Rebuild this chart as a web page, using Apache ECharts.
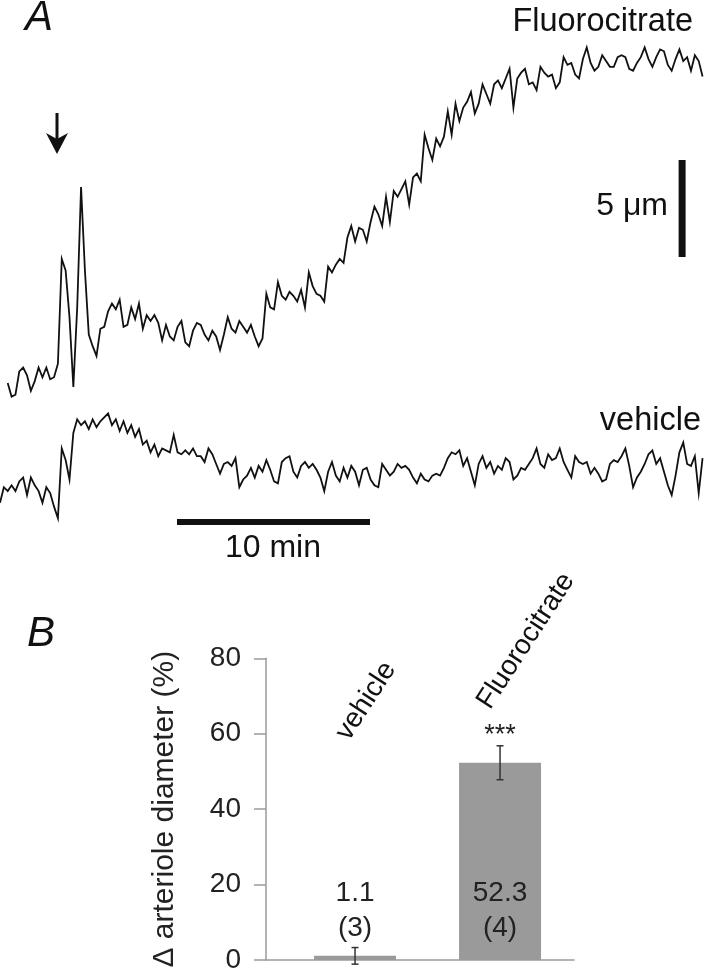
<!DOCTYPE html>
<html><head><meta charset="utf-8">
<script src="https://cdn.jsdelivr.net/npm/echarts/dist/echarts.min.js"></script>
<style>html,body{margin:0;padding:0;background:#fff}#c{width:705px;height:974px}</style>
</head><body><div id="c"></div>
<script>
// ---- Panel A: diameter traces (µm change), sampled every 0.2 min ----
const traceStepMin = 0.2;
const fluoroStartMin = 0.4;
const fluoroUm = [0.1,-0.6,-0.5,0.7,0.9,0.5,-0.3,0.2,0.9,0.4,
 0.9,0.3,0.4,1.1,6.5,5.9,3.5,-0.1,4.0,10.2,
 5.9,2.6,2.0,1.5,2.9,3.0,3.8,4.2,3.9,4.4,
 3.0,3.1,4.0,3.4,4.2,2.9,3.6,3.3,3.6,3.2,
 2.3,3.1,2.5,2.3,3.0,3.3,2.2,2.0,2.8,3.2,
 3.1,2.6,2.3,2.8,2.5,1.8,2.6,3.5,2.9,2.7,
 3.3,3.0,2.7,3.1,2.5,2.0,2.4,4.7,4.0,3.9,
 5.3,4.6,4.4,4.8,4.6,4.3,4.9,4.0,5.8,5.1,
 4.7,4.6,4.3,6.1,5.8,6.2,6.5,6.3,7.6,8.2,
 7.4,8.1,8.0,7.4,8.4,9.2,8.8,8.2,9.7,8.4,
 10.0,9.7,10.1,10.5,9.3,10.7,10.9,10.5,12.9,12.2,
 11.6,12.7,12.3,12.8,14.1,12.9,14.5,13.6,14.3,14.6,
 15.1,14.0,14.5,15.5,15.0,14.5,15.5,15.7,15.3,15.8,
 16.3,14.3,15.8,16.1,16.3,15.5,15.6,15.2,16.4,16.1,
 15.9,16.0,15.3,15.6,16.9,16.5,16.6,16.0,15.8,16.8,
 17.4,16.6,16.2,16.4,17.0,16.7,16.4,16.4,16.9,17.0,
 16.9,16.3,16.2,16.6,16.9,17.4,16.8,16.4,16.9,17.3,
 17.2,16.5,16.2,16.8,17.3,16.7,16.9,16.2,17.0,16.7,
 15.9];
const vehicleStartMin = 0;
const vehicleUm = [-0.4,0.4,0.2,0.5,0.2,0.7,0.9,0.0,0.9,0.5,
 0.2,-0.4,0.4,0.1,-0.6,-1.2,2.4,1.8,0.8,3.2,
 3.9,3.6,3.8,3.4,3.9,3.5,3.8,4.0,4.2,3.6,
 3.9,3.3,3.8,3.2,3.6,3.0,3.4,2.6,2.8,2.2,
 2.6,2.0,2.4,2.3,2.2,3.1,2.2,2.1,2.3,2.1,
 2.4,2.0,2.0,1.7,2.4,2.1,1.6,1.1,1.6,1.7,
 1.5,1.9,0.4,0.8,1.0,1.4,0.9,1.5,1.2,1.8,
 1.3,0.7,0.6,1.7,1.9,2.0,1.2,0.9,1.5,1.7,
 1.4,1.6,1.3,0.9,0.2,1.2,1.7,1.0,0.7,1.4,
 0.9,1.5,1.2,0.5,1.3,1.4,0.8,0.5,0.4,1.6,
 1.3,1.0,1.2,1.6,1.4,1.5,1.3,0.9,0.6,1.1,
 0.8,0.7,1.0,1.1,1.0,1.4,1.9,2.2,2.1,2.3,
 1.5,1.9,1.2,0.5,1.6,2.0,1.4,1.7,1.1,1.5,
 1.3,1.9,1.7,0.8,1.0,1.4,1.3,1.6,1.9,2.4,
 1.6,1.4,2.1,1.8,1.9,2.4,1.7,1.3,0.9,2.0,
 1.7,1.6,1.7,1.1,1.4,1.1,0.7,0.8,1.6,1.8,
 1.7,2.0,2.4,1.5,0.4,0.9,1.2,1.6,2.1,2.3,
 1.6,1.9,1.2,0.5,0.0,1.0,2.2,2.7,1.6,1.5,
 2.0,0.1,1.9];
const traceNames = ['Fluorocitrate', 'vehicle'];
const scaleBarUm = 5;
const scaleBarMin = 10;

// ---- Panel B: bar chart ----
const groups = ['vehicle', 'Fluorocitrate'];
const meanPct = [1.1, 52.3];
const semPct = [2.2, 4.5];
const nArterioles = [3, 4];
const sigMarks = ['', '***'];
const yTickValues = [0, 20, 40, 60, 80];
const yAxisTitle = 'Δ arteriole diameter (%)';

const FONT = "'Liberation Sans', Arial, Helvetica, sans-serif";
const INK = '#111';

const fluoroData = fluoroUm.map((v, i) => [fluoroStartMin + i * traceStepMin, v]);
const vehicleData = vehicleUm.map((v, i) => [vehicleStartMin + i * traceStepMin, v]);
const umBar = { t: 35.34, from: 6.6 };
const minBar = { t: 9.17, at: -1.39 };
const barData = meanPct.map((v, i) => [i + 1, v]);
const errData = meanPct.map((v, i) => [i + 1, v, semPct[i], i]);

const rot = 57 * Math.PI / 180;

function txt(text, x, y, size, align, vAlign, extra) {
  return Object.assign({
    type: 'text', x: x, y: y,
    style: { text: text, font: size + 'px ' + FONT, fill: INK,
      align: align, textAlign: align, verticalAlign: vAlign, textVerticalAlign: vAlign }
  }, extra || {});
}

const chart = echarts.init(document.getElementById('c'), null, { renderer: 'canvas' });
chart.setOption({
  animation: false,
  backgroundColor: '#fff',
  grid: [
    { left: 0, top: 35.8, width: 704.5, height: 368.6 },
    { left: 0, top: 398, width: 704.5, height: 135.8 },
    { left: 266, top: 658.3, width: 308, height: 306 }
  ],
  xAxis: [
    { gridIndex: 0, type: 'value', min: 0, max: 36.5, show: false },
    { gridIndex: 1, type: 'value', min: 0, max: 36.5, show: false },
    { gridIndex: 2, type: 'value', min: 0.386, max: 2.51,
      axisLine: { show: true, onZero: false, lineStyle: { color: '#9a9a9a', width: 1.5 } },
      axisTick: { show: false }, axisLabel: { show: false }, splitLine: { show: false } }
  ],
  yAxis: [
    { gridIndex: 0, type: 'value', min: -1, max: 18, show: false },
    { gridIndex: 1, type: 'value', min: -2, max: 5, show: false },
    { gridIndex: 2, type: 'value', min: yTickValues[0], max: yTickValues[yTickValues.length - 1],
      interval: yTickValues[1] - yTickValues[0],
      axisLine: { show: true, lineStyle: { color: '#9a9a9a', width: 1.5 } },
      axisTick: { show: true, length: 12, lineStyle: { color: '#9a9a9a', width: 1.5 } },
      axisLabel: { fontSize: 28, color: '#222', margin: 25, fontFamily: FONT },
      splitLine: { show: false },
      name: yAxisTitle, nameLocation: 'middle', nameGap: 86,
      nameTextStyle: { fontSize: 30, color: '#222', fontFamily: FONT } }
  ],
  series: [
    { name: traceNames[0], type: 'line', xAxisIndex: 0, yAxisIndex: 0, data: fluoroData,
      showSymbol: false, symbol: 'none', lineStyle: { color: INK, width: 1.8, join: 'miter' }, z: 3 },
    { name: traceNames[1], type: 'line', xAxisIndex: 1, yAxisIndex: 1, data: vehicleData,
      showSymbol: false, symbol: 'none', lineStyle: { color: INK, width: 1.8, join: 'miter' }, z: 3 },
    { name: 'umBar', type: 'line', xAxisIndex: 0, yAxisIndex: 0,
      data: [[umBar.t, umBar.from], [umBar.t, umBar.from + scaleBarUm]],
      showSymbol: false, symbol: 'none', lineStyle: { color: INK, width: 7, cap: 'butt' } },
    { name: 'minBar', type: 'line', xAxisIndex: 1, yAxisIndex: 1,
      data: [[minBar.t, minBar.at], [minBar.t + scaleBarMin, minBar.at]],
      showSymbol: false, symbol: 'none', lineStyle: { color: INK, width: 6, cap: 'butt' } },
    { name: 'mean', type: 'bar', xAxisIndex: 2, yAxisIndex: 2, data: barData, barWidth: 82,
      itemStyle: { color: '#9a9a9a' },
      label: { show: true, position: 'insideBottom', distance: 14,
        formatter: p => meanPct[p.dataIndex] + '\n(' + nArterioles[p.dataIndex] + ')',
        fontSize: 28, lineHeight: 35, color: '#222', fontFamily: FONT } },
    { name: 'sem', type: 'custom', xAxisIndex: 2, yAxisIndex: 2, data: errData, z: 5,
      renderItem: function (params, api) {
        const x = api.value(0), m = api.value(1), e = api.value(2), idx = api.value(3);
        const top = api.coord([x, m + e]);
        const bot = api.coord([x, m - e]);
        const cw = 3.5;
        const ls = { stroke: '#333', lineWidth: 1.5 };
        const children = [
          { type: 'line', shape: { x1: top[0], y1: top[1], x2: bot[0], y2: bot[1] }, style: ls },
          { type: 'line', shape: { x1: top[0] - cw, y1: top[1], x2: top[0] + cw, y2: top[1] }, style: ls },
          { type: 'line', shape: { x1: bot[0] - cw, y1: bot[1], x2: bot[0] + cw, y2: bot[1] }, style: ls }
        ];
        if (sigMarks[idx]) {
          children.push({ type: 'text', x: top[0], y: top[1] - 10,
            style: { text: sigMarks[idx], font: '27px ' + FONT, fill: '#222',
              align: 'center', verticalAlign: 'middle' } });
        }
        return { type: 'group', children: children };
      } }
  ],
  graphic: [
    txt('A', 25, 18, 42, 'left', 'middle', { style: { text: 'A', font: 'italic 42px ' + FONT, fill: INK, align: 'left', verticalAlign: 'middle' } }),
    txt('B', 27, 634, 42, 'left', 'middle', { style: { text: 'B', font: 'italic 42px ' + FONT, fill: INK, align: 'left', verticalAlign: 'middle' } }),
    txt(traceNames[0], 693, 22, 32.5, 'right', 'middle'),
    txt(traceNames[1], 701, 421, 32.5, 'right', 'middle'),
    txt(scaleBarUm + ' μm', 668, 206, 32, 'right', 'middle'),
    txt(scaleBarMin + ' min', 273, 548, 32, 'center', 'middle'),
    { type: 'line', shape: { x1: 57, y1: 113, x2: 57, y2: 140 }, style: { stroke: INK, lineWidth: 3 } },
    { type: 'polygon', shape: { points: [[46, 133], [57, 139], [68, 133], [57, 154]] }, style: { fill: INK } },
    txt(groups[0], 366, 701, 28, 'center', 'middle', { rotation: rot }),
    txt(groups[1], 526, 641, 28, 'center', 'middle', { rotation: rot })
  ]
});
</script></body></html>
